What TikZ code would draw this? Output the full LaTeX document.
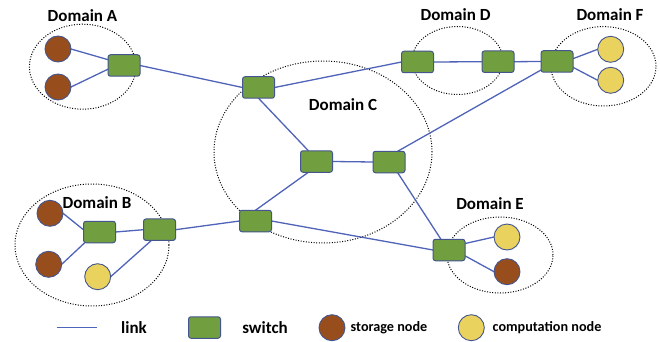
\documentclass[tikz,border=0pt]{standalone}
\usepackage{fontspec}
\setmainfont{Carlito}
\usetikzlibrary{shapes.geometric}
\pgfdeclarelayer{bg}
\pgfsetlayers{bg,main}
\definecolor{linkc}{HTML}{4F63B8}
\definecolor{edgec}{HTML}{44558F}
\definecolor{swc}{HTML}{719F3F}
\definecolor{brownc}{HTML}{974E1C}
\definecolor{yellc}{HTML}{EAD25F}
\tikzset{
  sw/.style={draw=edgec,line width=1pt,fill=swc,rounded corners=2.5pt,minimum width=32pt,minimum height=21.5pt,inner sep=0pt,outer sep=0pt,shape=rectangle},
  stor/.style={circle,draw=edgec,line width=0.9pt,fill=brownc,minimum size=26pt,inner sep=0pt,outer sep=0pt},
  comp/.style={circle,draw=edgec,line width=0.9pt,fill=yellc,minimum size=26pt,inner sep=0pt,outer sep=0pt},
  dom/.style={ellipse,draw=black,line width=1pt,dash pattern=on 1pt off 1.6pt,inner sep=0pt,outer sep=0pt},
  link/.style={draw=linkc,line width=1.3pt},
  lab/.style={font=\fontsize{17}{19}\selectfont\bfseries,inner sep=0pt},
  leg/.style={font=\fontsize{14.2}{16}\selectfont\bfseries,inner sep=0pt}
}
\begin{document}
\begin{tikzpicture}[x=1pt,y=-1pt]
\useasboundingbox (0,0) rectangle (660,342);
% switches
\node[sw] (sA) at (124,65.5) {};
\node[sw] (cT) at (258.5,87.5) {};
\node[sw] (dL) at (417.5,62) {};
\node[sw] (dR) at (498,61.7) {};
\node[sw] (sF) at (557,61.5) {};
\node[sw] (cL) at (316.5,161.5) {};
\node[sw] (cR) at (389,162) {};
\node[sw] (cB) at (255.5,221) {};
\node[sw] (bR) at (159.5,229.7) {};
\node[sw] (bL) at (99.5,232) {};
\node[sw] (sE) at (449,250) {};
\node[sw] (legS) at (204.5,327.5) {};
% computing and storage nodes
\node[stor] (a1) at (58,49) {};
\node[stor] (a2) at (58,87) {};
\node[comp] (f1) at (610.7,49.3) {};
\node[comp] (f2) at (610.7,80.3) {};
\node[stor] (b1) at (50,213.3) {};
\node[stor] (b2) at (48.7,264.3) {};
\node[comp] (b3) at (97.7,276.7) {};
\node[comp] (e1) at (507,237) {};
\node[stor] (e2) at (507,271.7) {};
\node[stor] (legB) at (332,327.7) {};
\node[comp] (legY) at (471.3,327.7) {};
% legend link ends
\coordinate (legA) at (56.7,327.7);
\coordinate (legZ) at (97.3,327.7);
\begin{pgfonlayer}{bg}
\node[dom,minimum width=106.6pt,minimum height=85pt] (domA) at (82.7,66.7) {};
\node[dom,minimum width=218pt,minimum height=182pt] (domC) at (323,152) {};
\node[dom,minimum width=91pt,minimum height=68pt] (domD) at (457.5,60.5) {};
\node[dom,minimum width=105pt,minimum height=79.4pt] (domF) at (603.5,66.3) {};
\node[dom,minimum width=154pt,minimum height=122pt] (domB) at (92,245) {};
\node[dom,minimum width=106pt,minimum height=76pt] (domE) at (500,255) {};
\draw[link] (a1.east) -- (sA.160);
\draw[link] (a2.east) -- (sA.193);
\draw[link] (sA.east) -- (cT.west);
\draw[link] (cT.east) -- (dL.west);
\draw[link] (dL.east) -- (dR.west);
\draw[link] (dR.east) -- (sF.west);
\draw[link] (sF.10) -- (f1.west);
\draw[link] (sF.-20) -- (f2.west);
\draw[link] (sF.208) -- (cR.51);
\draw[link] (cL.east) -- (cR.west);
\draw[link] (cT.south) -- (cL.127);
\draw[link] (cL.233) -- (cB.north);
\draw[link] (cR.-51) -- (sE.127);
\draw[link] (cB.east) -- (sE.west);
\draw[link] (cB.west) -- (bR.east);
\draw[link] (bR.west) -- (bL.east);
\draw[link] (bL.172) -- (b1.east);
\draw[link] (bL.216) -- (b2.east);
\draw[link] (bR.233) -- (b3.east);
\draw[link] (sE.22) -- (e1.west);
\draw[link] (sE.-20) -- (e2.west);
\draw[link] (legA) -- (legZ);
\end{pgfonlayer}
% labels
\node[lab] (tA) at (82.5,16) {Domain A};
\node[lab] (tD) at (455.5,15) {Domain D};
\node[lab] (tF) at (610,15) {Domain F};
\node[lab] (tC) at (343,105) {Domain C};
\node[lab] (tB) at (97,202.7) {Domain B};
\node[lab] (tE) at (490,204) {Domain E};
\node[lab] (tLink) at (134,328) {link};
\node[lab] (tSw) at (265,328) {switch};
\node[leg] (tSt) at (389,328) {storage node};
\node[leg] (tCo) at (547,328) {computation node};
\end{tikzpicture}
\end{document}
